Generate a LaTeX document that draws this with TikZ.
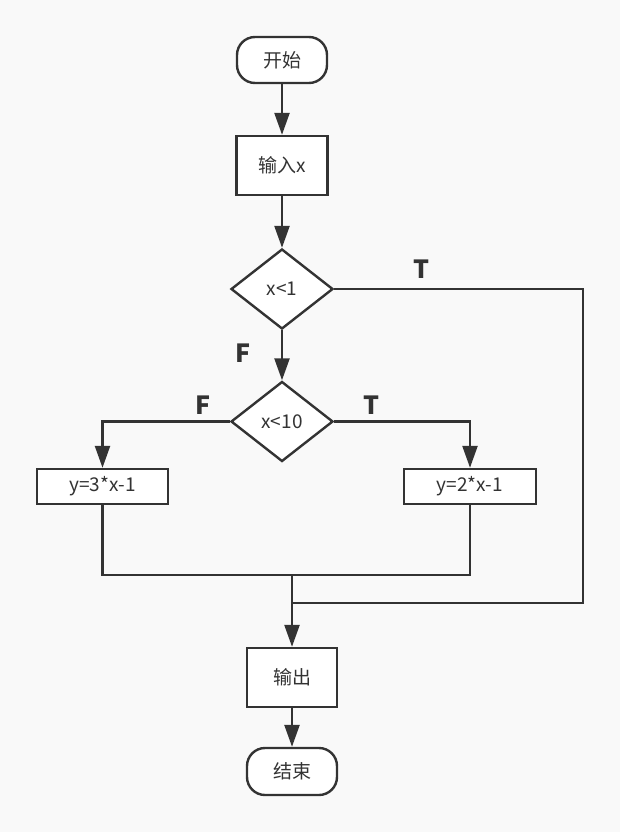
\documentclass[tikz,border=0pt]{standalone}
\usepackage{fontspec}
\setmainfont{Noto Sans CJK SC}
\usepackage{tikz}
\usetikzlibrary{shapes.geometric}
\usetikzlibrary{arrows.meta}
\definecolor{linecol}{HTML}{333333}
\definecolor{bgcol}{HTML}{F9F9F9}

\begin{document}
\begin{tikzpicture}[x=1pt, y=-1pt, line width=2.4pt, draw=linecol, text=linecol,
		box/.style={draw=linecol, fill=white, rectangle, inner sep=0pt, font=\fontsize{19}{22}\selectfont},
		term/.style={box, rounded corners=18pt},
		cond/.style={box, diamond, aspect=1.275},
		lab/.style={font=\fontsize{25}{28}\selectfont\bfseries},
		arr/.style={-{Triangle[length=22pt,width=15pt]}}]
		\fill[bgcol] (0,0) rectangle (620,832);
		\useasboundingbox (0,0) rectangle (620,832);
		% nodes
		\node[term, minimum width=90pt, minimum height=46pt] (start) at (282,60) {开始};
		\node[box, minimum width=91pt, minimum height=59pt] (input) at (282,165.5) {输入x};
		\node[cond, minimum width=102pt, minimum height=80pt] (lt1) at (282,289) {x<1};
		\node[cond, minimum width=102pt, minimum height=80pt] (lt10) at (282,421.5) {x<10};
		\node[box, minimum width=131pt, minimum height=35pt] (fthree) at (102.5,486.5) {y=3*x-1};
		\node[box, minimum width=132pt, minimum height=35pt] (ftwo) at (470,486.5) {y=2*x-1};
		\node[box, minimum width=90pt, minimum height=59pt] (output) at (292,677.5) {输出};
		\node[term, minimum width=90pt, minimum height=47pt] (stop) at (292,771.5) {结束};
		\coordinate (merge) at (292,575);
		\coordinate (join) at (292,603);
		\coordinate (corner) at (583,603);
		% connectors
		\draw[arr] (start) -- (input);
		\draw[arr] (input) -- (lt1);
		\draw[arr] (lt1) -- (lt10);
		\draw (lt1.east) -| (corner) -- (join);
		\draw[arr] (lt10.west) -| (fthree.north);
		\draw[arr] (lt10.east) -| (ftwo.north);
		\draw (fthree.south) -- (fthree.south |- merge) -- (ftwo.south |- merge) -- (ftwo.south);
		\draw[arr] (merge) -- (output);
		\draw[arr] (output) -- (stop);
		% labels
		\node[lab] (ta) at (421,269.5) {T};
		\node[lab] (fa) at (243,353.5) {F};
		\node[lab] (fb) at (203,405) {F};
		\node[lab] (tb) at (371,405) {T};
	\end{tikzpicture}
\end{document}
